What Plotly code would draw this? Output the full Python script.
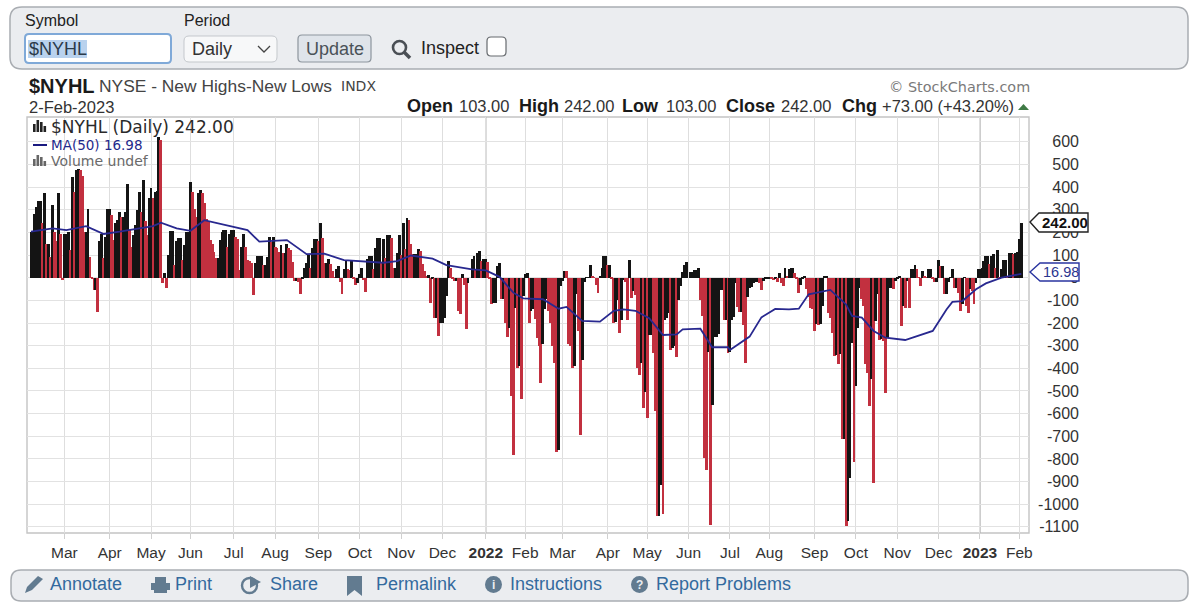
"""Recreation of a StockCharts $NYHL daily chart, page chrome included."""

import plotly.graph_objects as go

WIDTH = 1200
HEIGHT = 608

# Daily closes, one per trading day.
closes_early_2021 = [
    200, 205, 283, 313, 338, 338, 240, 372, 150, 150,
    92, 320, 200, 160, 372, 195, -10, 195, 195, 200,
    122, 445, 380, 475, 478, 475, 450, 200, 200, 305,
    90, -5, -55, -55, -150, 160, 195, 85, 180, 305,
    305, 276, 166, 240, 255, 290, 270, 270, 290, 415,
    210, 135, 188, 232, 298, 380, 290, 430, 250, 190,
    350, 394, 350, 380, 385, 620, 610, -25, 20, -45,
    100, 205, 205, 55, 160, 175, 175, 78, 145, 200,
    200, 423, 380, 305, 270, 372, 387, 372, 328, 260,
    247, 165, 150, 115, 85, 85, 166, 200, 210, 210,
    137, 195, 210, 210, 180, 173, 33, 137, 195, 137,
    78, 73, 63, -75, 66, 95, 95, 95, 55, 55,
    90, 180, 158, 180, 137, 130, 115, 144, 107, 107,
    148, 130, 122, 70, -15, -15, -20,
]
closes_late_2021 = [
    -70, -7, 44, 66, 100, 44, 132, 170, 170, 160,
    240, 176, 66, 66, 84, 60, 30, 2, 37, 51,
    -20, -70, 37, 73, 37, 35, 73, -7, -30, -22,
    15, 44, -10, -63, 81, 98, 98, 37, 132, 176,
    176, 66, 170, 88, 190, 190, 176, 44, 44, 110,
    190, 100, 240, 125, 265, 254, 147, 103, 103, 103,
    128, 118, 60, 30, 5, 10, -110, -7, -180, -180, -257,
    -200, -200, -176, -80, 73, 44, -5, -15, -15, -147,
    -160, 15, -30, -228, -22, 0, 81, 96, 40, 110,
    118, 73, 84, 84, 70, -7, -118, -110, -110, 50, 66,
    -95, -95, -198, -260, -220, -520, -784, -132, -397, -390,
    -534, -80, 15, 22, -198, -147, -140, -184, -265, -300,
    -463, -294, -140, -95, -147, -200, -300, -375, -769, -760, -37,
    -15, 30, 28, -294, -300, -397, -390, -73, -235, -695,
]
closes_2022 = [
    -363, -20, 3, 3, 56, 5, 3, -32, -66, 5,
    41, 97, 97, 56, 56, -5, -200, -195, -98, -245,
    -187, -10, -20, -187, 78, -91, -60, -75, -400, -430, -378,
    -576, -503, -620, -253, -253, -334, -590, -1054, -1050, -914,
    -1042, -187, -180, -157, -319, -312, -300, -348, -98, -37,
    26, 56, 70, 0, 26, 26, 32, 32, 41, -98,
    -170, -797, -848, -326, -1090, -561, -260, -260, -250, -54,
    -54, -187, -187, -334, -330, -187, -172, -25, -128, -150,
    -150, -210, -378, -84, -47, -40, -25, -18, -18, -25,
    -54, -13, -7, -7, -3, -5, -10, -7, -17, 19, -25,
    -37, 41, 5, 37,
]
closes_late_2022 = [
    44, 44, 20, -5, -66, -34, -3, 7, -51, -85,
    -132, -140, -235, -206, -209, -206, -125, 7, 7, -154,
    -176, -243, -345, -340, -382, -338, -713, -710, -1095, -1073,
    -882, -287, -813, -478, -220, -44, -95, -125, -382, -420,
    -566, -448, -907, -191, -73, -275, -272, -280, -507, -265,
    -44, -44, -51, -15, -3, 7, -213, -125, -132, -15,
    -132, 37, 37, 54, 40, 3, -37, 29, 7, 3,
    37, 37, -7, -19, -19, 80, 51, 51, -73, -73,
    -19, 3, 37, -44, -44, -66, -147, -118, 3, -125,
    -154, -51, -59, -118, -22, 37, 37, 44, 73, 95,
    95, 59, 95, 103, 44, 122, 3, 37, 80, 80,
    7, 110, 110, 105, 110, 113, 169, 242,
]

# 50-day moving average, read at the days where the line bends.
ma_days = [
    0, 11, 18, 28, 37, 45, 62, 66, 74, 81, 88, 99, 110, 116, 130, 140, 149,
    159, 169, 179, 186, 193, 204, 211, 224, 231, 238, 245, 250, 260, 268,
    272, 280, 289, 296, 301, 307, 314, 321, 328, 331, 340, 346, 354, 355,
    365, 371, 378, 385, 390, 395, 406, 414, 417, 422, 428, 434, 444, 458,
    465, 468, 473, 480, 485, 493, 503,
]
ma_values = [
    203, 218, 210, 228, 193, 203, 228, 243, 218, 207, 254, 232, 210, 159,
    166, 104, 106, 78, 73, 66, 73, 98, 84, 56, 37, 32, 4, -66, -91, -95,
    -137, -129, -191, -194, -146, -140, -146, -179, -253, -250, -228, -225,
    -307, -307, -319, -260, -175, -138, -140, -137, -73, -54, -118, -169,
    -176, -235, -265, -275, -235, -140, -107, -103, -51, -25, 0, 17,
]

tick_days = [
    17, 40, 61, 81, 103, 124, 146, 167, 188, 209, 231, 251, 270, 293, 313,
    334, 355, 375, 398, 419, 440, 461, 482, 502,
]
tick_months = [
    "Mar", "Apr", "May", "Jun", "Jul", "Aug", "Sep", "Oct", "Nov", "Dec",
    "<b>2022</b>", "Feb", "Mar", "Apr", "May", "Jun", "Jul", "Aug", "Sep",
    "Oct", "Nov", "Dec", "<b>2023</b>", "Feb",
]
year_days = [231, 482]
y_ticks = [
    600, 500, 400, 300, 200, 100, 0, -100, -200, -300, -400, -500, -600,
    -700, -800, -900, -1000, -1100,
]

closes = closes_early_2021 + closes_late_2021 + closes_2022 + closes_late_2022
days = list(range(len(closes)))
# StockCharts colors by day-on-day move: up is black, down is red.
bar_colors = ["#141414"] + [
    "#141414" if now >= before else "#c2303f" for before, now in zip(closes, closes[1:])
]


def px(x):
    return x / WIDTH


def py(y):
    return 1 - y / HEIGHT


def poly(points):
    """SVG path in paper coordinates from pixel points."""
    parts = [f"{px(x):.5f},{py(y):.5f}" for x, y in points]
    return "M" + " L".join(parts) + " Z"


def rounded(x0, y0, x1, y1, r):
    """Rounded rectangle as an SVG path, pixel input."""
    def p(x, y):
        return f"{px(x):.5f},{py(y):.5f}"

    return (
        f"M{p(x0 + r, y0)} L{p(x1 - r, y0)} Q{p(x1, y0)} {p(x1, y0 + r)} "
        f"L{p(x1, y1 - r)} Q{p(x1, y1)} {p(x1 - r, y1)} L{p(x0 + r, y1)} "
        f"Q{p(x0, y1)} {p(x0, y1 - r)} L{p(x0, y0 + r)} Q{p(x0, y0)} {p(x0 + r, y0)} Z"
    )


shapes = []
annotations = []


def add_path(path, fill="rgba(0,0,0,0)", line=None, width=1, layer="above"):
    shapes.append({
        "type": "path", "path": path, "xref": "paper", "yref": "paper",
        "fillcolor": fill, "layer": layer,
        "line": {"color": line or "rgba(0,0,0,0)", "width": width if line else 0},
    })


def add_text(x, y, text, size=15, color="#222222", family="Liberation Sans", anchor="left"):
    annotations.append({
        "x": px(x), "y": py(y), "xref": "paper", "yref": "paper", "text": text,
        "showarrow": False, "xanchor": anchor, "yanchor": "middle", "borderpad": 0,
        "font": {"size": size, "color": color, "family": family},
    })


# top control panel
add_path(rounded(10, 7, 1188, 69, 12), "#ebedf0", "#a9adb2", 1.5, "below")
add_text(24, 20, "Symbol", 16)
add_text(183, 20, "Period", 16)
add_path(rounded(25, 34, 171, 63, 4), "#ffffff", "#7fa9d8", 2)
add_path(poly([(28, 40), (87, 40), (87, 58), (28, 58)]), "#b9d2ee")
add_text(28, 49, "$NYHL", 18, "#2b3a4a")
add_path(rounded(184, 36, 277, 62, 5), "#f7f8f9", "#c4c8cc", 1)
add_text(191, 49, "Daily", 18, "#333333")
shapes.append({
    "type": "path", "xref": "paper", "yref": "paper", "layer": "above",
    "path": f"M{px(258):.5f},{py(46):.5f} L{px(264):.5f},{py(52):.5f} L{px(270):.5f},{py(46):.5f}",
    "line": {"color": "#444444", "width": 1.3},
})
add_path(rounded(298, 35, 371, 62, 4), "#dfe4ea", "#8d959d", 1.2)
add_text(305, 49, "Update", 18, "#4a5258")
shapes.append({
    "type": "circle", "xref": "paper", "yref": "paper", "layer": "above",
    "x0": px(393), "x1": px(406), "y0": py(41), "y1": py(54),
    "line": {"color": "#4a4f55", "width": 2.6},
})
shapes.append({
    "type": "line", "xref": "paper", "yref": "paper", "layer": "above",
    "x0": px(404), "x1": px(410), "y0": py(52), "y1": py(58),
    "line": {"color": "#4a4f55", "width": 3.5},
})
add_text(420, 48, "Inspect", 18, "#222222")
add_path(rounded(487, 37, 506, 56, 4), "#ffffff", "#666a6e", 1.2)

# chart header
add_text(28, 86, "<b>$NYHL</b>", 20, "#1a1a1a")
add_text(98, 86, "NYSE - New Highs-New Lows", 17.4, "#444444")
add_text(340, 86, "INDX", 14, "#444444", "DejaVu Sans")
add_text(888, 87, "© StockCharts.com", 14.4, "#7a7a7a", "DejaVu Sans")
add_text(28, 107, "2-Feb-2023", 16.5, "#333333")
for x, label in [(406, "<b>Open</b>"), (518, "<b>High</b>"), (621, "<b>Low</b>"),
                 (725, "<b>Close</b>"), (841, "<b>Chg</b>")]:
    add_text(x, 106, label, 18, "#1a1a1a")
for x, label in [(458, "103.00"), (563, "242.00"), (665, "103.00"),
                 (780, "242.00"), (881, "+73.00 (+43.20%)")]:
    add_text(x, 106, label, 16.5, "#333333")
add_path(poly([(1018, 110), (1029, 110), (1023.5, 104)]), "#3f7a45")

# plot frame, year lines
add_path(poly([(27, 117), (1029, 117), (1029, 533), (27, 533)]), line="#c4c4c4", width=1.4, layer="below")
for day in year_days:
    shapes.append({
        "type": "line", "xref": "x", "yref": "paper", "x0": day, "x1": day,
        "y0": py(533), "y1": py(117), "layer": "below",
        "line": {"color": "#b4b4b4", "width": 1.4},
    })

# in-chart legend
for x0, top in [(33, 124), (36.5, 120), (40, 122), (43.5, 126)]:
    add_path(poly([(x0, top), (x0 + 2.6, top), (x0 + 2.6, 132), (x0, 132)]), "#222222")
    add_path(poly([(x0, top + 35), (x0 + 2.6, top + 35), (x0 + 2.6, 166), (x0, 166)]), "#666666")
add_text(50, 127, "$NYHL (Daily) 242.00", 17, "#2a2a2a", "DejaVu Sans")
add_path(poly([(33, 144), (47, 144), (47, 146), (33, 146)]), "#1a1a80")
add_text(50, 145, "MA(50) 16.98", 13.5, "#1f2a8c", "DejaVu Sans")
add_text(50, 161, "Volume undef", 14, "#6a6a6a", "DejaVu Sans")

# last-value tags on the price axis
add_path(poly([(1030, 222), (1039, 213), (1088, 213), (1088, 232), (1039, 232)]), "#ffffff", "#222222", 1.4)
add_text(1041, 222.5, "<b>242.00</b>", 15, "#111111")
add_path(poly([(1030, 272), (1040, 263), (1079, 263), (1079, 281), (1040, 281)]), "#ffffff", "#2a35a0", 1.4)
add_text(1042, 272, "16.98", 14.5, "#2a3590")

# bottom toolbar
add_path(rounded(11, 570, 1188, 601, 10), "#ebedf0", "#a9adb2", 1.5, "below")
ICON = "#627b90"
LINK = "#336a9e"
for x, label in [(49, "Annotate"), (174, "Print"), (269, "Share"), (375, "Permalink"),
                 (509, "Instructions"), (655, "Report Problems")]:
    add_text(x, 584, label, 18, LINK)
add_path(poly([(25, 593), (27, 587), (38, 576), (43, 579), (32, 590)]), ICON)
add_path(poly([(155, 577), (166, 577), (166, 583), (170, 583), (170, 590), (151, 590), (151, 583), (155, 583)]), ICON)
add_path(poly([(154, 586), (167, 586), (167, 593), (154, 593)]), ICON)
shapes.append({
    "type": "circle", "xref": "paper", "yref": "paper", "layer": "above",
    "x0": px(242), "x1": px(257), "y0": py(578), "y1": py(593),
    "line": {"color": ICON, "width": 2.4},
})
add_path(poly([(250, 576), (261, 582), (250, 588)]), ICON)
add_path(poly([(347, 576), (362, 576), (362, 596), (354.5, 590), (347, 596)]), ICON)
for x0, glyph in [(485, "i"), (631, "?")]:
    shapes.append({
        "type": "circle", "xref": "paper", "yref": "paper", "layer": "above",
        "x0": px(x0), "x1": px(x0 + 17), "y0": py(576), "y1": py(593),
        "fillcolor": ICON, "line": {"width": 0},
    })
    add_text(x0 + 8.5, 584.5, f"<b>{glyph}</b>", 12, "#ebedf0", anchor="center")

fig = go.Figure()
fig.add_trace(go.Bar(
    x=days, y=closes, width=1.45, name="$NYHL",
    marker={"color": bar_colors, "line": {"width": 0}},
))
fig.add_trace(go.Scatter(
    x=ma_days, y=ma_values, mode="lines", name="MA(50)",
    line={"color": "#28288f", "width": 1.8},
))
fig.update_layout(
    width=WIDTH,
    height=HEIGHT,
    margin={"l": 0, "r": 0, "t": 0, "b": 0, "autoexpand": False},
    paper_bgcolor="#ffffff",
    plot_bgcolor="#ffffff",
    showlegend=False,
    bargap=0,
    shapes=shapes,
    annotations=annotations,
    xaxis={
        "domain": [px(27), px(1029)],
        "range": [-2, 506.9],
        "tickmode": "array",
        "tickvals": tick_days,
        "ticktext": tick_months,
        "ticks": "outside",
        "ticklen": 5,
        "tickcolor": "#d0d0d0",
        "tickfont": {"family": "Liberation Sans", "size": 15.5, "color": "#333333"},
        "showgrid": True,
        "gridcolor": "#dedede",
        "gridwidth": 1.3,
        "zeroline": False,
    },
    yaxis={
        # free axis on the left side so the labels end flush right at 1077px
        "anchor": "free",
        "position": px(1079),
        "side": "left",
        "domain": [py(533), py(117)],
        "range": [-1127, 709.5],
        "tickmode": "array",
        "tickvals": y_ticks,
        "ticktext": [str(v) for v in y_ticks],
        "ticks": "",
        "tickfont": {"family": "Liberation Sans", "size": 16, "color": "#333333"},
        "showgrid": True,
        "gridcolor": "#e2e2e2",
        "gridwidth": 1.3,
        "zeroline": False,
    },
)

# the default page keeps the browser's body margin and scrollbars; drop them so pixels line up
fig.write_html(
    "out.html",
    config={"displayModeBar": False},
    post_script="document.body.style.margin='0';document.documentElement.style.overflow='hidden';",
)
